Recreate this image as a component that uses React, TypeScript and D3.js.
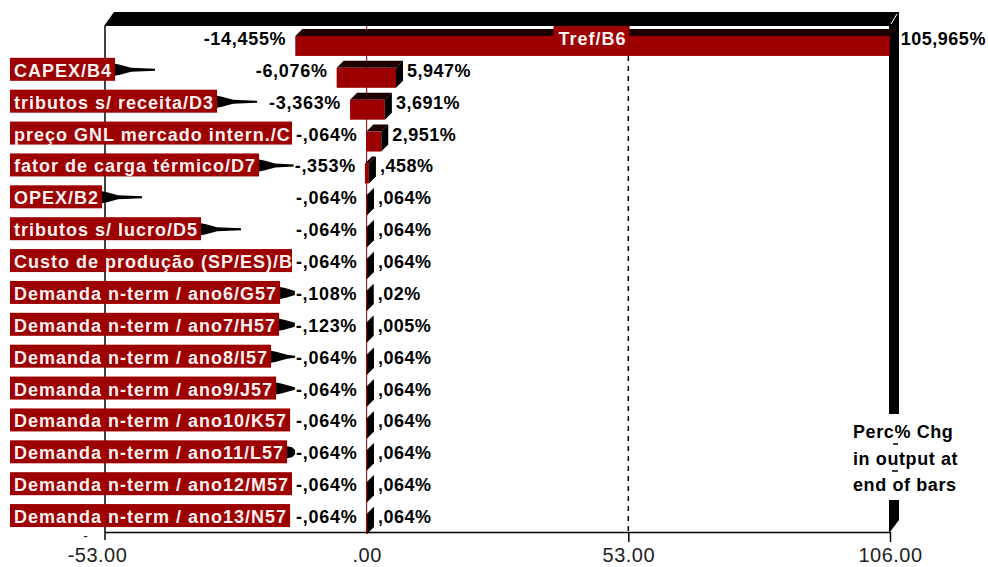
import { useEffect, useRef } from 'react'
import * as d3 from 'd3'

const inputs = [
  'Tref/B6',
  'CAPEX/B4',
  'tributos s/ receita/D3',
  'preço GNL mercado intern./C',
  'fator de carga térmico/D7',
  'OPEX/B2',
  'tributos s/ lucro/D5',
  'Custo de produção (SP/ES)/B',
  'Demanda n-term / ano6/G57',
  'Demanda n-term / ano7/H57',
  'Demanda n-term / ano8/I57',
  'Demanda n-term / ano9/J57',
  'Demanda n-term / ano10/K57',
  'Demanda n-term / ano11/L57',
  'Demanda n-term / ano12/M57',
  'Demanda n-term / ano13/N57',
]
const lowPct = [-14.455, -6.076, -3.363, -0.064, -0.353, -0.064, -0.064, -0.064, -0.108, -0.123, -0.064, -0.064, -0.064, -0.064, -0.064, -0.064]
const highPct = [105.965, 5.947, 3.691, 2.951, 0.458, 0.064, 0.064, 0.064, 0.02, 0.005, 0.064, 0.064, 0.064, 0.064, 0.064, 0.064]
const tickVals = [-53, 0, 53, 106]
const legendLines = ['Perc% Chg', 'in output at', 'end of bars']

// 0.064 -> ",064%", 105.965 -> "105,965%"
const fmtPct = (v: number) => {
  let s = Math.abs(v).toFixed(3).replace(/0+$/, '').replace(/\.$/, '')
  s = s.replace(/^0\./, '.').replace('.', ',')
  return (v < 0 ? '-' : '') + s + '%'
}
const fmtTick = (v: number) => v.toFixed(2).replace(/^0\./, '.')

export default function App() {
  const ref = useRef<SVGSVGElement>(null)

  useEffect(() => {
    if (!ref.current) return
    document.body.style.margin = '0'

    const el = ref.current
    const W = 988, H = 567
    const font = 'Liberation Sans, Arial, sans-serif'
    const red = '#9c0000'
    const depth = 7
    const labelMax = 292

    const svg = d3.select(el)
    svg.selectAll('*').remove()

    const x = d3.scaleLinear().domain([-53, 106]).range([105, 890])
    const y = d3.scaleBand<string>().domain(inputs).range([22, 532])
    const [left, right] = x.range()
    const top = 26
    const bottom = y.range()[1]
    const rows = inputs.map((name, i) => ({ name, lo: lowPct[i], hi: highPct[i] }))

    svg.append('rect').attr('width', W).attr('height', H).attr('fill', '#fff')

    // 3d frame: top band and right wall
    svg.append('path')
      .attr('d', `M${left - 1},${top} L${left + 9},12 L${right + 9},12 L${right + 9},${top} Z`)
      .attr('fill', '#000')
    svg.append('path')
      .attr('d', `M${right - 1},${top} L${right + 9},${top} L${right + 9},${bottom - 12} L${right},${bottom} L${right - 1},${bottom} Z`)
      .attr('fill', '#000')
    svg.append('line')
      .attr('x1', right + 1).attr('y1', top - 2).attr('x2', right + 7).attr('y2', 14)
      .attr('stroke', '#fff').attr('stroke-width', 1)

    // gridline at 53 and zero line
    svg.append('line')
      .attr('x1', x(53)).attr('x2', x(53)).attr('y1', top).attr('y2', bottom)
      .attr('stroke', '#000').attr('stroke-width', 1.5).attr('stroke-dasharray', '5,5')
    svg.append('line')
      .attr('x1', x(0)).attr('x2', x(0)).attr('y1', top).attr('y2', bottom)
      .attr('stroke', '#7a0000').attr('stroke-width', 1)

    // left axis line
    svg.append('line')
      .attr('x1', left).attr('x2', left).attr('y1', top).attr('y2', bottom + 8)
      .attr('stroke', '#000').attr('stroke-width', 1.5)

    // bottom axis
    const ax = svg.append('g')
      .attr('transform', `translate(0,${bottom})`)
      .call(d3.axisBottom(x).tickValues(tickVals).tickSize(10).tickSizeOuter(0).tickFormat(d => fmtTick(+d)))
    ax.select('.domain').attr('stroke', '#000').attr('stroke-width', 1.5)
    ax.selectAll<SVGGElement, number>('.tick').filter(d => d === 0 || d === -53).select('line').remove()
    ax.selectAll('.tick line').attr('stroke', '#000').attr('stroke-width', 1.5)
    ax.selectAll<SVGTextElement, number>('.tick text')
      .attr('y', 16).attr('fill', '#222').attr('font-size', '20px').attr('font-family', font)
      .attr('letter-spacing', '0.5px')
      .attr('dx', d => (d === -53 ? -8 : 0))
    ax.selectAll<SVGGElement, number>('.tick').filter(d => d === -53)
      .append('text').text('-')
      .attr('x', -20).attr('y', 9)
      .attr('fill', '#222').attr('font-size', '14px').attr('font-family', font).attr('text-anchor', 'middle')

    // bars (3d)
    const bars = svg.append('g')
    rows.forEach(r => {
      const c = y(r.name)! + y.bandwidth() / 2
      const x0 = x(r.lo), x1 = x(r.hi)
      const y0 = c - 2, y1 = c + 18
      bars.append('path')
        .attr('d', `M${x0},${y0} L${x0 + depth},${y0 - depth} L${x1 + depth},${y0 - depth} L${x1},${y0} Z`)
        .attr('fill', '#1e0000')
      bars.append('path')
        .attr('d', `M${x1},${y0} L${x1 + depth},${y0 - depth} L${x1 + depth},${y1 - depth} L${x1},${y1} Z`)
        .attr('fill', '#000')
      bars.append('rect')
        .attr('x', x0).attr('y', y0).attr('width', Math.max(1, x1 - x0)).attr('height', y1 - y0)
        .attr('fill', red)
    })

    // labels
    const clipId = 'lblclip'
    svg.append('clipPath').attr('id', clipId)
      .append('rect').attr('x', 0).attr('y', 0).attr('width', labelMax).attr('height', H)

    const labels = svg.append('g')
    const values = svg.append('g')
    rows.forEach(r => {
      const c = y(r.name)! + y.bandwidth() / 2
      const x0 = x(r.lo), x1 = x(r.hi)
      const inside = r.hi - r.lo > 53

      // low value text
      const lowT = values.append('text')
        .text(fmtPct(r.lo))
        .attr('x', x0 - 9).attr('y', c + 7)
        .attr('text-anchor', 'end')
        .attr('font-family', font).attr('font-weight', 'bold').attr('font-size', '18px')
        .attr('letter-spacing', '0.7px').attr('fill', '#000')
      const lowStart = x0 - 9 - (lowT.node()!.getComputedTextLength())

      values.append('text')
        .text(fmtPct(r.hi))
        .attr('x', x1 + 11).attr('y', c + 7)
        .attr('font-family', font).attr('font-weight', 'bold').attr('font-size', '18px')
        .attr('letter-spacing', '0.5px').attr('fill', '#000')

      const g = labels.append('g')
      if (!inside) g.attr('clip-path', `url(#${clipId})`)
      const box = g.append('rect').attr('fill', red)
      const t = g.append('text')
        .text(r.name)
        .attr('y', c + 7)
        .attr('font-family', font).attr('font-weight', 'bold').attr('font-size', '18px')
        .attr('letter-spacing', '1px').attr('fill', '#fff2f2')
      const tw = t.node()!.getComputedTextLength()
      let bx0: number, bx1: number
      if (inside) {
        const mid = (x0 + x1) / 2
        bx0 = mid - tw / 2 - 5
        bx1 = mid + tw / 2 + 3
        t.attr('x', mid - tw / 2)
      } else {
        bx0 = 10
        bx1 = Math.min(10 + tw + 7, labelMax)
        t.attr('x', 14)
      }
      box.attr('x', bx0).attr('y', c - 12).attr('width', bx1 - bx0).attr('height', 23)

      // black pennant after the label box
      if (!inside && bx1 < labelMax - 4) {
        const len = Math.min(40, lowStart - bx1 - 1)
        if (len >= 5) {
          const k = Math.min(16, len)
          labels.append('path')
            .attr('d', `M${bx1},${c - 6} L${bx1 + 5},${c - 5} L${bx1 + k},${c - 2} L${bx1 + len},${c - 1} L${bx1 + len},${c + 1} L${bx1 + k},${c + 2} L${bx1 + 5},${c + 5} L${bx1},${c + 6} Z`)
            .attr('fill', '#000')
        }
      }
    })

    // legend
    const lg = svg.append('g')
    lg.append('rect').attr('x', 843).attr('y', 414).attr('width', 135).attr('height', 86).attr('fill', '#fff')
    legendLines.forEach((s, i) => {
      lg.append('text')
        .text(s)
        .attr('x', 853).attr('y', 438 + i * 26.5)
        .attr('font-family', font).attr('font-weight', 'bold').attr('font-size', '18px')
        .attr('letter-spacing', '0.6px').attr('fill', '#000')
    })
    lg.append('line').attr('x1', 893).attr('x2', 898).attr('y1', 444).attr('y2', 444).attr('stroke', '#000').attr('stroke-width', 1.5)
    lg.append('line').attr('x1', 892).attr('x2', 898).attr('y1', 471).attr('y2', 471).attr('stroke', '#000').attr('stroke-width', 1.5)
  }, [])

  return <svg ref={ref} width={988} height={567} style={{ display: 'block' }} />
}
